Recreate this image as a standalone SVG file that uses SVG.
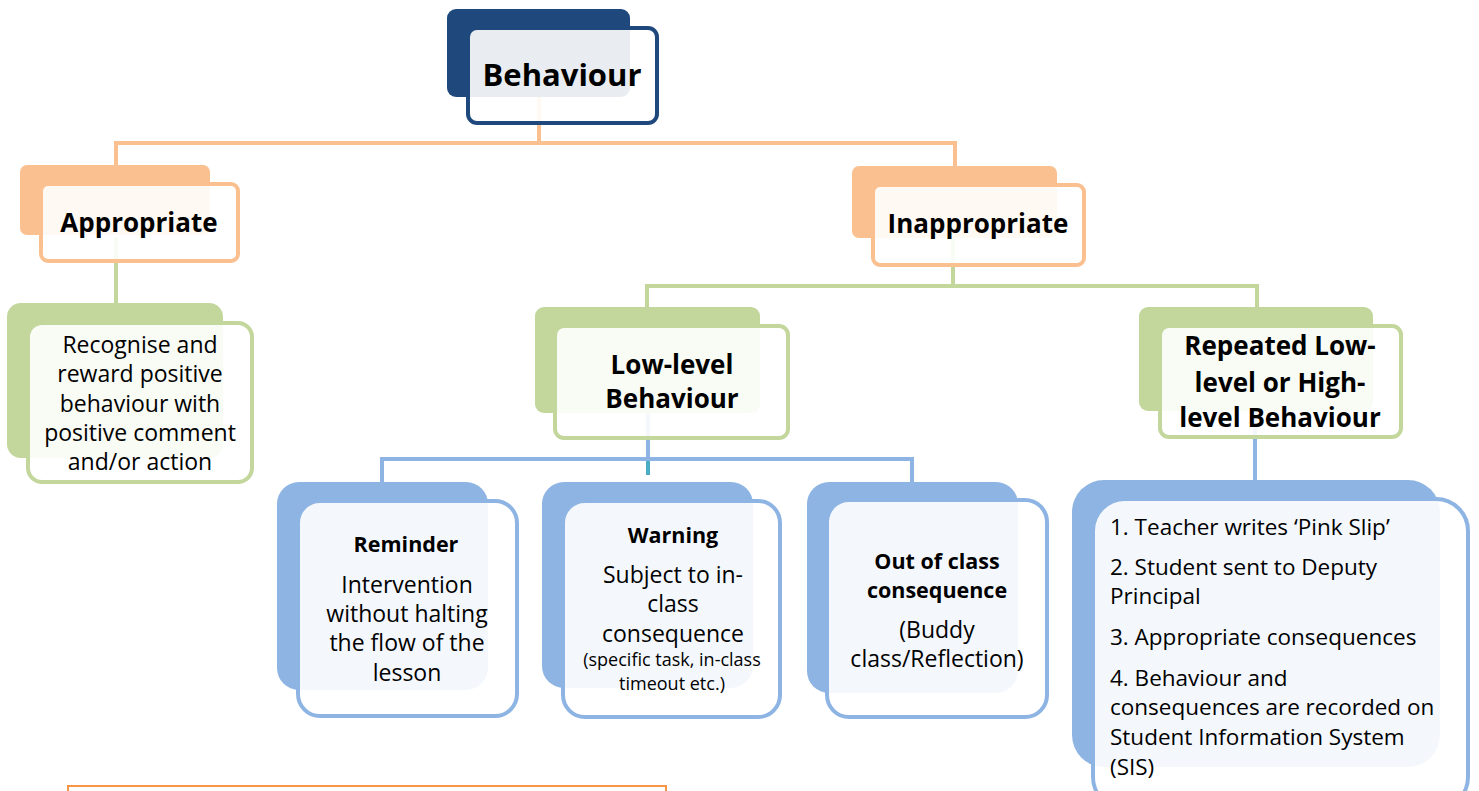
<svg xmlns="http://www.w3.org/2000/svg" width="1479" height="791" viewBox="0 0 1479 791">
<style>
text{font-family:"Open Sans","Noto Sans",sans-serif;fill:#000}
.t1{font-size:31px;font-weight:bold;text-anchor:middle}
.t2{font-size:26px;font-weight:bold;text-anchor:middle}
.t3{font-size:21.5px;font-weight:bold;text-anchor:middle}
.b{font-size:23px;text-anchor:middle}
.s{font-size:18px;text-anchor:middle}
.l{font-size:22.5px}
.front{fill:#fff;fill-opacity:0.9;stroke-width:4}
.con{fill:none;stroke-width:4}
</style>
<rect width="1479" height="791" fill="#fff"/>
<g id="connectors">
<path class="con" stroke="#FAC090" d="M539,97V143M116,143H955M116,141V166M955,141V166"/>
<path class="con" stroke="#C3D69B" d="M116,237V303M953,238V286M647,286H1257M647,284V307M1257,284V307"/>
<path class="con" stroke="#8EB4E3" d="M648,413V459M382,459H912M382,457V482M912,457V482M1255,411V480"/>
<path class="con" stroke="#4BACC6" d="M648,461V475"/>
</g>
<g id="behaviour">
<rect x="447" y="9" width="183" height="88" rx="9" fill="#1F497D"/>
<rect class="front" x="468" y="28" width="189" height="95" rx="9" stroke="#1F497D"/>
<text class="t1" x="562" y="86">Behaviour</text>
</g>
<g id="appropriate">
<rect x="20" y="165" width="190" height="70" rx="7" fill="#FAC090"/>
<rect class="front" x="41" y="184" width="197" height="77" rx="7" stroke="#FAC090"/>
<text class="t2" x="139" y="232">Appropriate</text>
</g>
<g id="inappropriate">
<rect x="852" y="166" width="205" height="72" rx="7" fill="#FAC090"/>
<rect class="front" x="873" y="185" width="211" height="80" rx="7" stroke="#FAC090"/>
<text class="t2" x="978" y="233">Inappropriate</text>
</g>
<g id="recognise">
<rect x="7" y="303" width="216" height="155" rx="14" fill="#C3D69B"/>
<rect class="front" x="28" y="323" width="224" height="159" rx="14" stroke="#C3D69B"/>
<text class="b" x="140" y="353">Recognise and</text>
<text class="b" x="140" y="382">reward positive</text>
<text class="b" x="140" y="412">behaviour with</text>
<text class="b" x="140" y="441">positive comment</text>
<text class="b" x="140" y="470">and/or action</text>
</g>
<g id="lowlevel">
<rect x="535" y="307" width="225" height="106" rx="9" fill="#C3D69B"/>
<rect class="front" x="555" y="326" width="233" height="112" rx="9" stroke="#C3D69B"/>
<text class="t2" x="672" y="374">Low-level</text>
<text class="t2" x="672" y="408">Behaviour</text>
</g>
<g id="repeated">
<rect x="1139" y="307" width="234" height="104" rx="9" fill="#C3D69B"/>
<rect class="front" x="1160" y="326" width="241" height="111" rx="9" stroke="#C3D69B"/>
<text class="t2" x="1280" y="355">Repeated Low-</text>
<text class="t2" x="1280" y="392">level or High-</text>
<text class="t2" x="1280" y="427">level Behaviour</text>
</g>
<g id="reminder">
<rect x="277" y="482" width="211" height="208" rx="22" fill="#8EB4E3"/>
<rect class="front" x="298" y="501" width="219" height="215" rx="22" stroke="#8EB4E3"/>
<text class="t3" x="406" y="552">Reminder</text>
<text class="b" x="407" y="593">Intervention</text>
<text class="b" x="407" y="622">without halting</text>
<text class="b" x="407" y="651">the flow of the</text>
<text class="b" x="407" y="681">lesson</text>
</g>
<g id="warning">
<rect x="542" y="482" width="211" height="206" rx="22" fill="#8EB4E3"/>
<rect class="front" x="563" y="501" width="217" height="216" rx="22" stroke="#8EB4E3"/>
<text class="t3" x="673" y="543">Warning</text>
<text class="b" x="673" y="583">Subject to in-</text>
<text class="b" x="673" y="612">class</text>
<text class="b" x="673" y="642">consequence</text>
<text class="s" x="672" y="666">(specific task, in-class</text>
<text class="s" x="672" y="690">timeout etc.)</text>
</g>
<g id="outofclass">
<rect x="807" y="482" width="211" height="211" rx="22" fill="#8EB4E3"/>
<rect class="front" x="827" y="500" width="220" height="217" rx="22" stroke="#8EB4E3"/>
<text class="t3" x="937" y="569">Out of class</text>
<text class="t3" x="937" y="598">consequence</text>
<text class="b" x="937" y="638">(Buddy</text>
<text class="b" x="937" y="667">class/Reflection)</text>
</g>
<g id="steps">
<rect x="1072" y="480" width="368" height="287" rx="32" fill="#8EB4E3"/>
<rect class="front" x="1093" y="499" width="375" height="310" rx="32" stroke="#8EB4E3"/>
<text class="l" x="1110" y="535">1. Teacher writes ‘Pink Slip’</text>
<text class="l" x="1110" y="575">2. Student sent to Deputy</text>
<text class="l" x="1110" y="604">Principal</text>
<text class="l" x="1110" y="645">3. Appropriate consequences</text>
<text class="l" x="1110" y="686">4. Behaviour and</text>
<text class="l" x="1110" y="715">consequences are recorded on</text>
<text class="l" x="1110" y="745">Student Information System</text>
<text class="l" x="1110" y="775">(SIS)</text>
</g>
<g id="note">
<rect x="68" y="786" width="598" height="20" fill="#fff" stroke="#F79646" stroke-width="2"/>
</g>
</svg>
